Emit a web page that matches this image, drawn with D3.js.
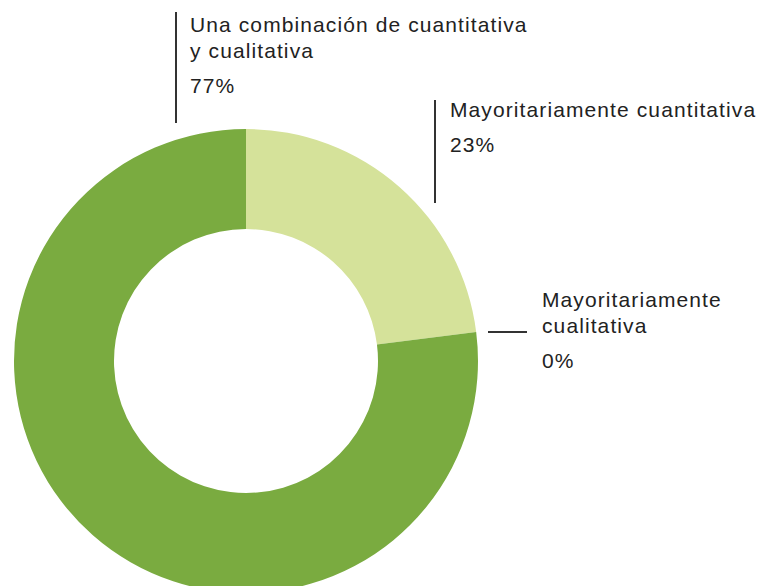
<!DOCTYPE html>
<html>
<head>
<meta charset="utf-8">
<script src="https://cdn.jsdelivr.net/npm/d3@7"></script>
<style>
  html, body { margin: 0; padding: 0; background: #ffffff; }
  svg { display: block; }
  text { font-family: "Liberation Sans", Arial, Helvetica, sans-serif; fill: #222; }
</style>
</head>
<body>
<svg id="chart" width="760" height="586"></svg>
<script>
// Survey answers, in clockwise order starting at 12 o'clock
const categories = [
  ["Mayoritariamente cuantitativa"],
  ["Mayoritariamente", "cualitativa"],
  ["Una combinación de cuantitativa", "y cualitativa"]
];
const values = [23, 0, 77];
const colors = ["#d5e29a", "#7aab40", "#7aab40"];

const data = categories.map((c, i) => ({ lines: c, value: values[i], color: colors[i] }));

const cx = 246, cy = 361, outerR = 232, innerR = 132;

const svg = d3.select("#chart");
const g = svg.append("g").attr("transform", `translate(${cx},${cy})`);

const pie = d3.pie().sort(null).value(d => d.value).startAngle(0).endAngle(2 * Math.PI);
const arcs = pie(data);
const arc = d3.arc().innerRadius(innerR).outerRadius(outerR);

g.selectAll("path.slice")
  .data(arcs)
  .join("path")
  .attr("class", "slice")
  .attr("d", arc)
  .attr("fill", d => d.data.color);

// Label blocks: rule plus wrapped category name and percent
const fontSize = 21, tracking = 1.1, lineH = 26, pctGap = 35;
const pct = d3.format(".0%");

function labelBlock(x, y, lines, value) {
  const t = svg.append("text")
    .attr("font-size", fontSize)
    .attr("letter-spacing", tracking);
  lines.forEach((l, i) => {
    t.append("tspan").attr("x", x).attr("y", y + i * lineH).text(l);
  });
  svg.append("text")
    .attr("font-size", fontSize)
    .attr("letter-spacing", tracking)
    .attr("x", x)
    .attr("y", y + (lines.length - 1) * lineH + pctGap)
    .text(pct(value / 100));
}

const rule = (x1, y1, x2, y2) =>
  svg.append("line").attr("x1", x1).attr("y1", y1).attr("x2", x2).attr("y2", y2)
    .attr("stroke", "#333").attr("stroke-width", 2);

// 77% block, top left
rule(176, 12, 176, 123);
labelBlock(190, 32, arcs[2].data.lines, arcs[2].data.value);

// 23% block, top right
rule(435, 100, 435, 203);
labelBlock(450, 117, arcs[0].data.lines, arcs[0].data.value);

// 0% block: horizontal leader at the slice's angle
const a0 = arcs[1].startAngle;
const yLead = cy - outerR * Math.cos(a0);
rule(488, yLead, 527, yLead);
labelBlock(542, 307, arcs[1].data.lines, arcs[1].data.value);
</script>
</body>
</html>
